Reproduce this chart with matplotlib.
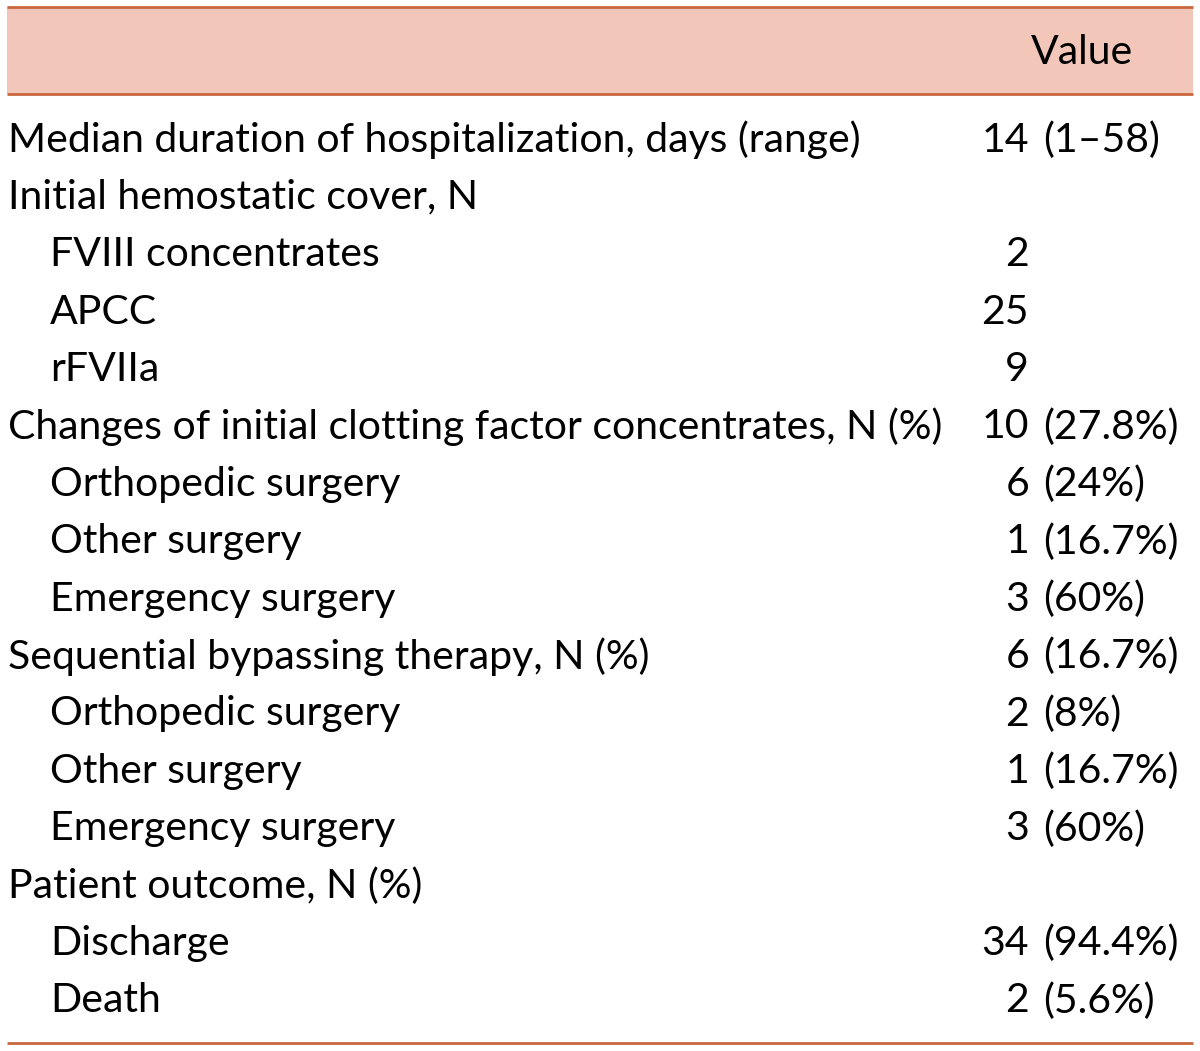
import matplotlib.pyplot as plt
from matplotlib.patches import Rectangle

labels = [
    'Median duration of hospitalization, days (range)',
    'Initial hemostatic cover, N',
    'FVIII concentrates',
    'APCC',
    'rFVIIa',
    'Changes of initial clotting factor concentrates, N (%)',
    'Orthopedic surgery',
    'Other surgery',
    'Emergency surgery',
    'Sequential bypassing therapy, N (%)',
    'Orthopedic surgery',
    'Other surgery',
    'Emergency surgery',
    'Patient outcome, N (%)',
    'Discharge',
    'Death',
]
indent = [0, 0, 1, 1, 1, 0, 1, 1, 1, 0, 1, 1, 1, 0, 1, 1]
counts = ['14', '', '2', '25', '9', '10', '6', '1', '3', '6', '2', '1', '3', '', '34', '2']
extra = ['(1\u201358)', '', '', '', '', '(27.8%)', '(24%)', '(16.7%)', '(60%)',
         '(16.7%)', '(8%)', '(16.7%)', '(60%)', '', '(94.4%)', '(5.6%)']

header_fill = '#F2C6B9'
rule_color = '#C8673F'
FS = 29.5
FONT = 'Lato'

W, H = 1200, 1051
fig = plt.figure(figsize=(W / 100, H / 100), dpi=100)
ax = fig.add_axes([0, 0, 1, 1])
ax.set_xlim(0, W)
ax.set_ylim(H, 0)
ax.axis('off')

# header band and rules
ax.add_patch(Rectangle((7, 7), 1186, 87, facecolor=header_fill, edgecolor='none'))
for y in (7, 94, 1043):
    ax.plot([7, 1193], [y, y], color=rule_color, linewidth=2.0, solid_capstyle='butt')

ax.text(1082, 52, 'Value', fontsize=FS, family=FONT, ha='center', va='center')

y0, dy = 140, 57.4
for i, lab in enumerate(labels):
    y = y0 + i * dy
    ax.text(8 + 42 * indent[i], y, lab, fontsize=FS, family=FONT, ha='left', va='center')
    if counts[i]:
        ax.text(1029, y, counts[i], fontsize=FS, family=FONT, ha='right', va='center')
    if extra[i]:
        ax.text(1043, y, extra[i], fontsize=FS, family=FONT, ha='left', va='center')

fig.savefig('out.png', dpi=100, facecolor='white')
